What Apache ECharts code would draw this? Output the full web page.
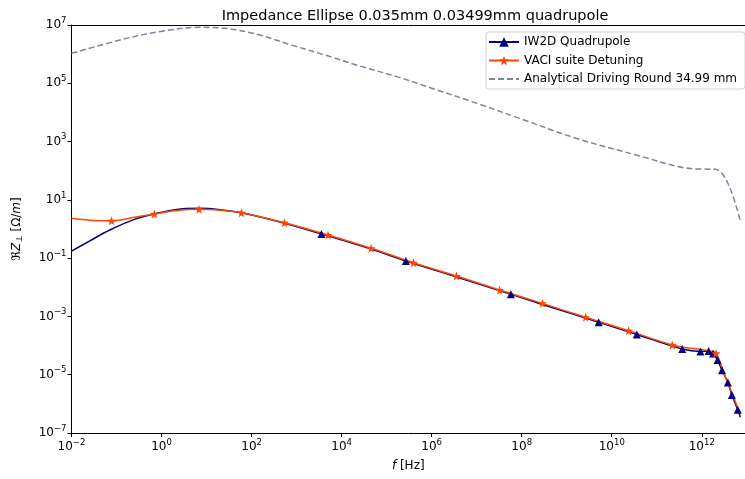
<!DOCTYPE html>
<html>
<head>
<meta charset="utf-8">
<script src="https://cdn.jsdelivr.net/npm/echarts@6/dist/echarts.min.js"></script>
<style>
  html, body { margin: 0; padding: 0; background: #fff; }
  #chart { width: 745px; height: 479px; }
</style>
</head>
<body>
<div id="chart"></div>
<script>
// IW2D Quadrupole: smooth curve points and marker points
const iw2dFreq = [1e-2, 0.025, 0.0708, 0.251, 0.692, 2.0, 6.82, 20, 59.6, 537, 4.52e4, 3.55e6, 2.88e8, 7.2e12]
const iw2dZ = [0.175, 0.384, 0.923, 2.14, 3.27, 4.62, 5.13, 4.62, 3.59, 1.58, 0.204, 0.0226, 2.57e-3, 3.5e-7]
const iw2dMarkFreq = [3.56e3, 2.67e5, 5.75e7, 5.13e9, 3.6e10, 3.68e11, 9.33e11, 1.42e12, 1.78e12, 2.24e12, 2.82e12, 3.8e12, 4.66e12, 6.3e12]
const iw2dMarkZ = [0.676, 0.0794, 5.75e-3, 6.3e-4, 2.4e-4, 7.6e-5, 6.3e-5, 6.5e-5, 5.3e-5, 3.2e-5, 1.41e-5, 5.4e-6, 2.0e-6, 6.3e-7]

// VACI suite Detuning
const vaciFreq = [1e-2, 0.025, 0.251, 2.0, 20, 6.3e11, 1.26e12, 3.0e12, 4.7e12, 7.2e12]
const vaciZ = [2.32, 2.0, 2.51, 4.22, 4.37, 7.9e-5, 6.8e-5, 1.26e-5, 2.3e-6, 4.4e-7]
const vaciMarkFreq = [0.0776, 0.692, 6.82, 59.6, 537, 5.0e3, 4.52e4, 3.94e5, 3.55e6, 3.24e7, 2.88e8, 2.63e9, 2.37e10, 2.21e11, 2.07e12]
const vaciMarkZ = [1.92, 3.27, 4.73, 3.62, 1.64, 0.621, 0.217, 0.0697, 0.0243, 8.05e-3, 2.81e-3, 9.31e-4, 3.24e-4, 1.05e-4, 5.4e-5]

// Analytical Driving Round 34.99 mm
const roundFreq = [1e-2, 0.166, 0.89, 6.8, 26, 145, 776, 4.3e3, 2.3e4, 1.74e5, 1e6, 1.02e7, 1e8, 1.6e9, 4.8e10, 2.6e11, 7.2e11, 2e12, 3.0e12, 4.7e12, 7.2e12]
const roundZ = [1.07e6, 3.47e6, 5.9e6, 8.3e6, 7.7e6, 4.6e6, 2.04e6, 9.3e5, 4.1e5, 1.66e5, 6.8e4, 2.05e4, 5.9e3, 1.3e3, 302, 145, 115, 112, 71, 16.6, 1.9]

const seriesNames = ["IW2D Quadrupole", "VACI suite Detuning", "Analytical Driving Round 34.99 mm"]

const FONT = "DejaVu Sans"
const STAR = "path://M0,-10L2.35,-3.24L9.51,-3.09L3.8,1.24L5.88,8.09L0,4L-5.88,8.09L-3.8,1.24L-9.51,-3.09L-2.35,-3.24Z"

// 合并曲线点和标记点
function buildData(freq, z, markFreq, markZ, symbol) {
  const pts = freq.map((f, i) => ({ value: [f, z[i]], symbol: "none" }))
  markFreq.forEach((f, i) => pts.push({ value: [f, markZ[i]], symbol }))
  pts.sort((a, b) => a.value[0] - b.value[0])
  return pts
}

// 10^n 上标标签
function powLabel(v) {
  const e = Math.round(Math.log10(v))
  const s = e < 0 ? "\u2212" + Math.abs(e) : String(e)
  return "{b|10}{s|" + s + "}"
}

const labelRich = {
  b: { fontFamily: FONT, fontSize: 12, color: "#000" },
  s: { fontFamily: FONT, fontSize: 8.5, color: "#000", padding: [0, 0, 9, 0] }
}

const chart = echarts.init(document.getElementById("chart"), null, { renderer: "canvas" })

const baseX = {
  type: "log",
  logBase: 10,
  min: 1e-2,
  max: Math.pow(10, 12.96),
  interval: 2,
  splitLine: { show: false },
  minorTick: { show: false },
  axisLine: { lineStyle: { color: "#000", width: 1 } }
}

chart.setOption({
  animation: false,
  backgroundColor: "#fff",
  title: {
    text: "Impedance Ellipse 0.035mm 0.03499mm quadrupole",
    left: 410,
    textAlign: "center",
    top: 4,
    textStyle: { fontFamily: FONT, fontSize: 14.5, fontWeight: "normal", color: "#000" }
  },
  legend: {
    data: [
      seriesNames[0],
      seriesNames[1],
      { name: seriesNames[2], itemStyle: { color: "rgba(0,0,0,0)", borderWidth: 0 } }
    ],
    orient: "vertical",
    left: 486,
    top: 32,
    itemWidth: 30,
    itemHeight: 12,
    itemGap: 6.5,
    padding: [4, 8, 4, 2],
    backgroundColor: "rgba(255,255,255,0.8)",
    borderColor: "#d0d0d0",
    borderWidth: 1,
    borderRadius: 3,
    textStyle: { fontFamily: FONT, fontSize: 12, color: "#000" }
  },
  grid: { left: 71.5, right: -5, top: 25, bottom: 46, containLabel: false },
  xAxis: [
    Object.assign({}, baseX, {
      position: "bottom",
      name: "{i|f} [Hz]",
      nameLocation: "middle",
      nameGap: 27,
      nameTextStyle: {
        fontFamily: FONT, fontSize: 12, color: "#000",
        rich: { i: { fontFamily: FONT, fontSize: 12, fontStyle: "italic", color: "#000" } }
      },
      axisTick: { show: true, inside: false, length: 4, lineStyle: { color: "#000" } },
      axisLabel: { formatter: powLabel, rich: labelRich, margin: 5, showMaxLabel: false }
    }),
    Object.assign({}, baseX, {
      position: "top",
      axisTick: { show: false },
      axisLabel: { show: false }
    })
  ],
  yAxis: {
    type: "log",
    logBase: 10,
    min: 1e-7,
    max: 1e7,
    interval: 2,
    name: "\u211C{i|Z}{sub|\u22A5} [\u03A9/{i|m}]",
    nameLocation: "middle",
    nameGap: 47,
    nameTextStyle: {
      fontFamily: FONT, fontSize: 12, color: "#000",
      rich: {
        i: { fontFamily: FONT, fontSize: 12, fontStyle: "italic", color: "#000" },
        sub: { fontFamily: FONT, fontSize: 8.5, color: "#000", padding: [6, 0, 0, 0] }
      }
    },
    splitLine: { show: false },
    minorTick: { show: false },
    axisLine: { show: true, lineStyle: { color: "#000", width: 1 } },
    axisTick: { show: true, inside: false, length: 4, lineStyle: { color: "#000" } },
    axisLabel: { formatter: powLabel, rich: labelRich, margin: 5 }
  },
  series: [
    {
      name: seriesNames[0],
      type: "line",
      data: buildData(iw2dFreq, iw2dZ, iw2dMarkFreq, iw2dMarkZ, "triangle"),
      symbol: "triangle",
      symbolSize: 8,
      showSymbol: true,
      showAllSymbol: true,
      smooth: 0.35,
      lineStyle: { color: "#000080", width: 1.5 },
      itemStyle: { color: "#000080" }
    },
    {
      name: seriesNames[1],
      type: "line",
      data: buildData(vaciFreq, vaciZ, vaciMarkFreq, vaciMarkZ, STAR),
      symbol: STAR,
      symbolSize: 9,
      showSymbol: true,
      showAllSymbol: true,
      smooth: 0.35,
      lineStyle: { color: "#ff4500", width: 1.5 },
      itemStyle: { color: "#ff4500" }
    },
    {
      name: seriesNames[2],
      type: "line",
      data: roundFreq.map((f, i) => [f, roundZ[i]]),
      symbol: "none",
      smooth: 0.35,
      lineStyle: { color: "#778899", width: 1.5, type: [6, 3] },
      itemStyle: { color: "#778899" }
    }
  ]
})
</script>
</body>
</html>
